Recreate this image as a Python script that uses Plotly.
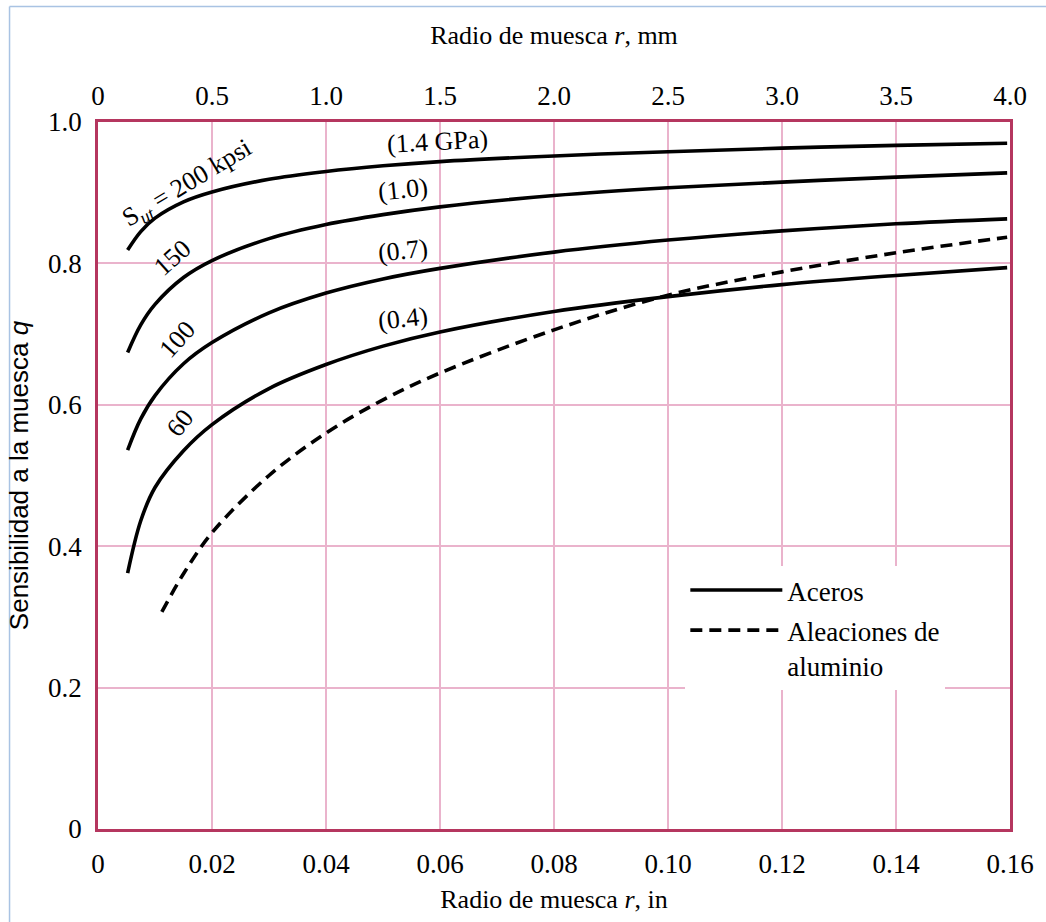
import plotly.graph_objects as go

# ---- data ----
r_in_steel = [0.0052, 0.0075, 0.01, 0.015, 0.02, 0.03, 0.04, 0.05, 0.06, 0.08, 0.10, 0.12, 0.14, 0.1595]
q_200 = [0.819, 0.845, 0.864, 0.887, 0.901, 0.919, 0.930, 0.938, 0.944, 0.952, 0.958, 0.963, 0.967, 0.970]
q_150 = [0.674, 0.713, 0.742, 0.780, 0.804, 0.835, 0.855, 0.869, 0.880, 0.896, 0.907, 0.915, 0.922, 0.928]
q_100 = [0.536, 0.580, 0.613, 0.658, 0.688, 0.730, 0.758, 0.778, 0.793, 0.816, 0.833, 0.846, 0.856, 0.863]
q_60 = [0.362, 0.436, 0.483, 0.535, 0.572, 0.623, 0.657, 0.683, 0.703, 0.732, 0.753, 0.770, 0.783, 0.794]

r_in_al = [0.0112, 0.015, 0.02, 0.03, 0.04, 0.05, 0.06, 0.08, 0.10, 0.12, 0.14, 0.1595]
q_al = [0.307, 0.361, 0.419, 0.500, 0.560, 0.607, 0.645, 0.706, 0.755, 0.788, 0.815, 0.837]

x_in_ticks = [0, 0.02, 0.04, 0.06, 0.08, 0.10, 0.12, 0.14, 0.16]
x_in_labels = ["0", "0.02", "0.04", "0.06", "0.08", "0.10", "0.12", "0.14", "0.16"]
x_mm_ticks = [0, 0.5, 1.0, 1.5, 2.0, 2.5, 3.0, 3.5, 4.0]
x_mm_labels = ["0", "0.5", "1.0", "1.5", "2.0", "2.5", "3.0", "3.5", "4.0"]
y_ticks = [0, 0.2, 0.4, 0.6, 0.8, 1.0]
y_labels = ["0", "0.2", "0.4", "0.6", "0.8", "1.0"]

# curve labels: (text, x, y, angle)
label_text = ["S<sub><i>ut</i></sub> = 200 kpsi", "150", "100", "60",
              "(1.4 GPa)", "(1.0)", "(0.7)", "(0.4)"]
label_x = [0.0157, 0.0131, 0.0139, 0.0143, 0.0596, 0.0535, 0.0535, 0.0535]
label_y = [0.912, 0.808, 0.692, 0.574, 0.972, 0.905, 0.818, 0.722]
label_angle = [-31, -42, -48, -52, -3, -6, -6, -6]

SERIF = "Liberation Serif"
GRID = "#eab3cc"
BORDER = "#b5365f"

fig = go.Figure()

steel = [q_200, q_150, q_100, q_60]
for i, q in enumerate(steel):
    fig.add_trace(go.Scatter(
        x=r_in_steel, y=q, mode="lines", line=dict(color="black", width=3.6, shape="spline"),
        name="Aceros", legendgroup="steel", showlegend=(i == 0), hoverinfo="skip"))

fig.add_trace(go.Scatter(
    x=r_in_al, y=q_al, mode="lines",
    line=dict(color="black", width=3.6, dash="12px,7px", shape="spline"),
    name="Aleaciones de<br>aluminio", hoverinfo="skip"))

# invisible trace to activate the mm axis
fig.add_trace(go.Scatter(x=x_mm_ticks, y=[None] * len(x_mm_ticks), xaxis="x2",
                         mode="lines", showlegend=False, hoverinfo="skip"))

for t, x, y, a in zip(label_text, label_x, label_y, label_angle):
    fig.add_annotation(x=x, y=y, text=t, textangle=a, showarrow=False,
                       font=dict(family=SERIF, size=26, color="black"))

# outer light-blue frame (left and top)
fig.add_shape(type="line", xref="paper", yref="paper", x0=-0.097, x1=-0.097, y0=-0.14, y1=1.1634,
              line=dict(color="#a9c3e3", width=1.5))
fig.add_shape(type="line", xref="paper", yref="paper", x0=-0.097, x1=1.04, y0=1.1634, y1=1.1634,
              line=dict(color="#a9c3e3", width=1.5))

fig.update_layout(
    width=1046, height=922,
    margin=dict(l=98, r=30, t=122, b=93),
    paper_bgcolor="white", plot_bgcolor="white",
    font=dict(family=SERIF, size=27, color="black"),
    showlegend=True,
    legend=dict(x=0.644, y=0.372, xanchor="left", yanchor="top", bgcolor="white",
                font=dict(family=SERIF, size=27, color="black"), valign="top",
                tracegroupgap=2, itemwidth=92),
    xaxis=dict(range=[0, 0.16], tickvals=x_in_ticks, ticktext=x_in_labels,
               showgrid=True, gridcolor=GRID, gridwidth=1.5, zeroline=False,
               showline=True, linecolor=BORDER, linewidth=2.5, mirror=True,
               ticks="", ticklabelstandoff=9, tickfont=dict(size=27),
               title=dict(text="Radio de muesca <i>r</i>, in", standoff=12,
                          font=dict(family=SERIF, size=26))),
    xaxis2=dict(range=[0, 4], overlaying="x", side="top", tickvals=x_mm_ticks, ticktext=x_mm_labels,
                showgrid=False, zeroline=False, showline=False, ticks="", ticklabelstandoff=11,
                tickfont=dict(size=27),
                title=dict(text="Radio de muesca <i>r</i>, mm", standoff=28,
                           font=dict(family=SERIF, size=26))),
    yaxis=dict(range=[0, 1.0], tickvals=y_ticks, ticktext=y_labels,
               showgrid=True, gridcolor=GRID, gridwidth=1.5, zeroline=False,
               showline=True, linecolor=BORDER, linewidth=2.5, mirror=True,
               ticks="", ticklabelstandoff=8, tickfont=dict(size=27),
               title=dict(text="Sensibilidad a la muesca <i>q</i>", standoff=12,
                          font=dict(family="Liberation Sans", size=26))),
)

fig.write_html("out.html")
